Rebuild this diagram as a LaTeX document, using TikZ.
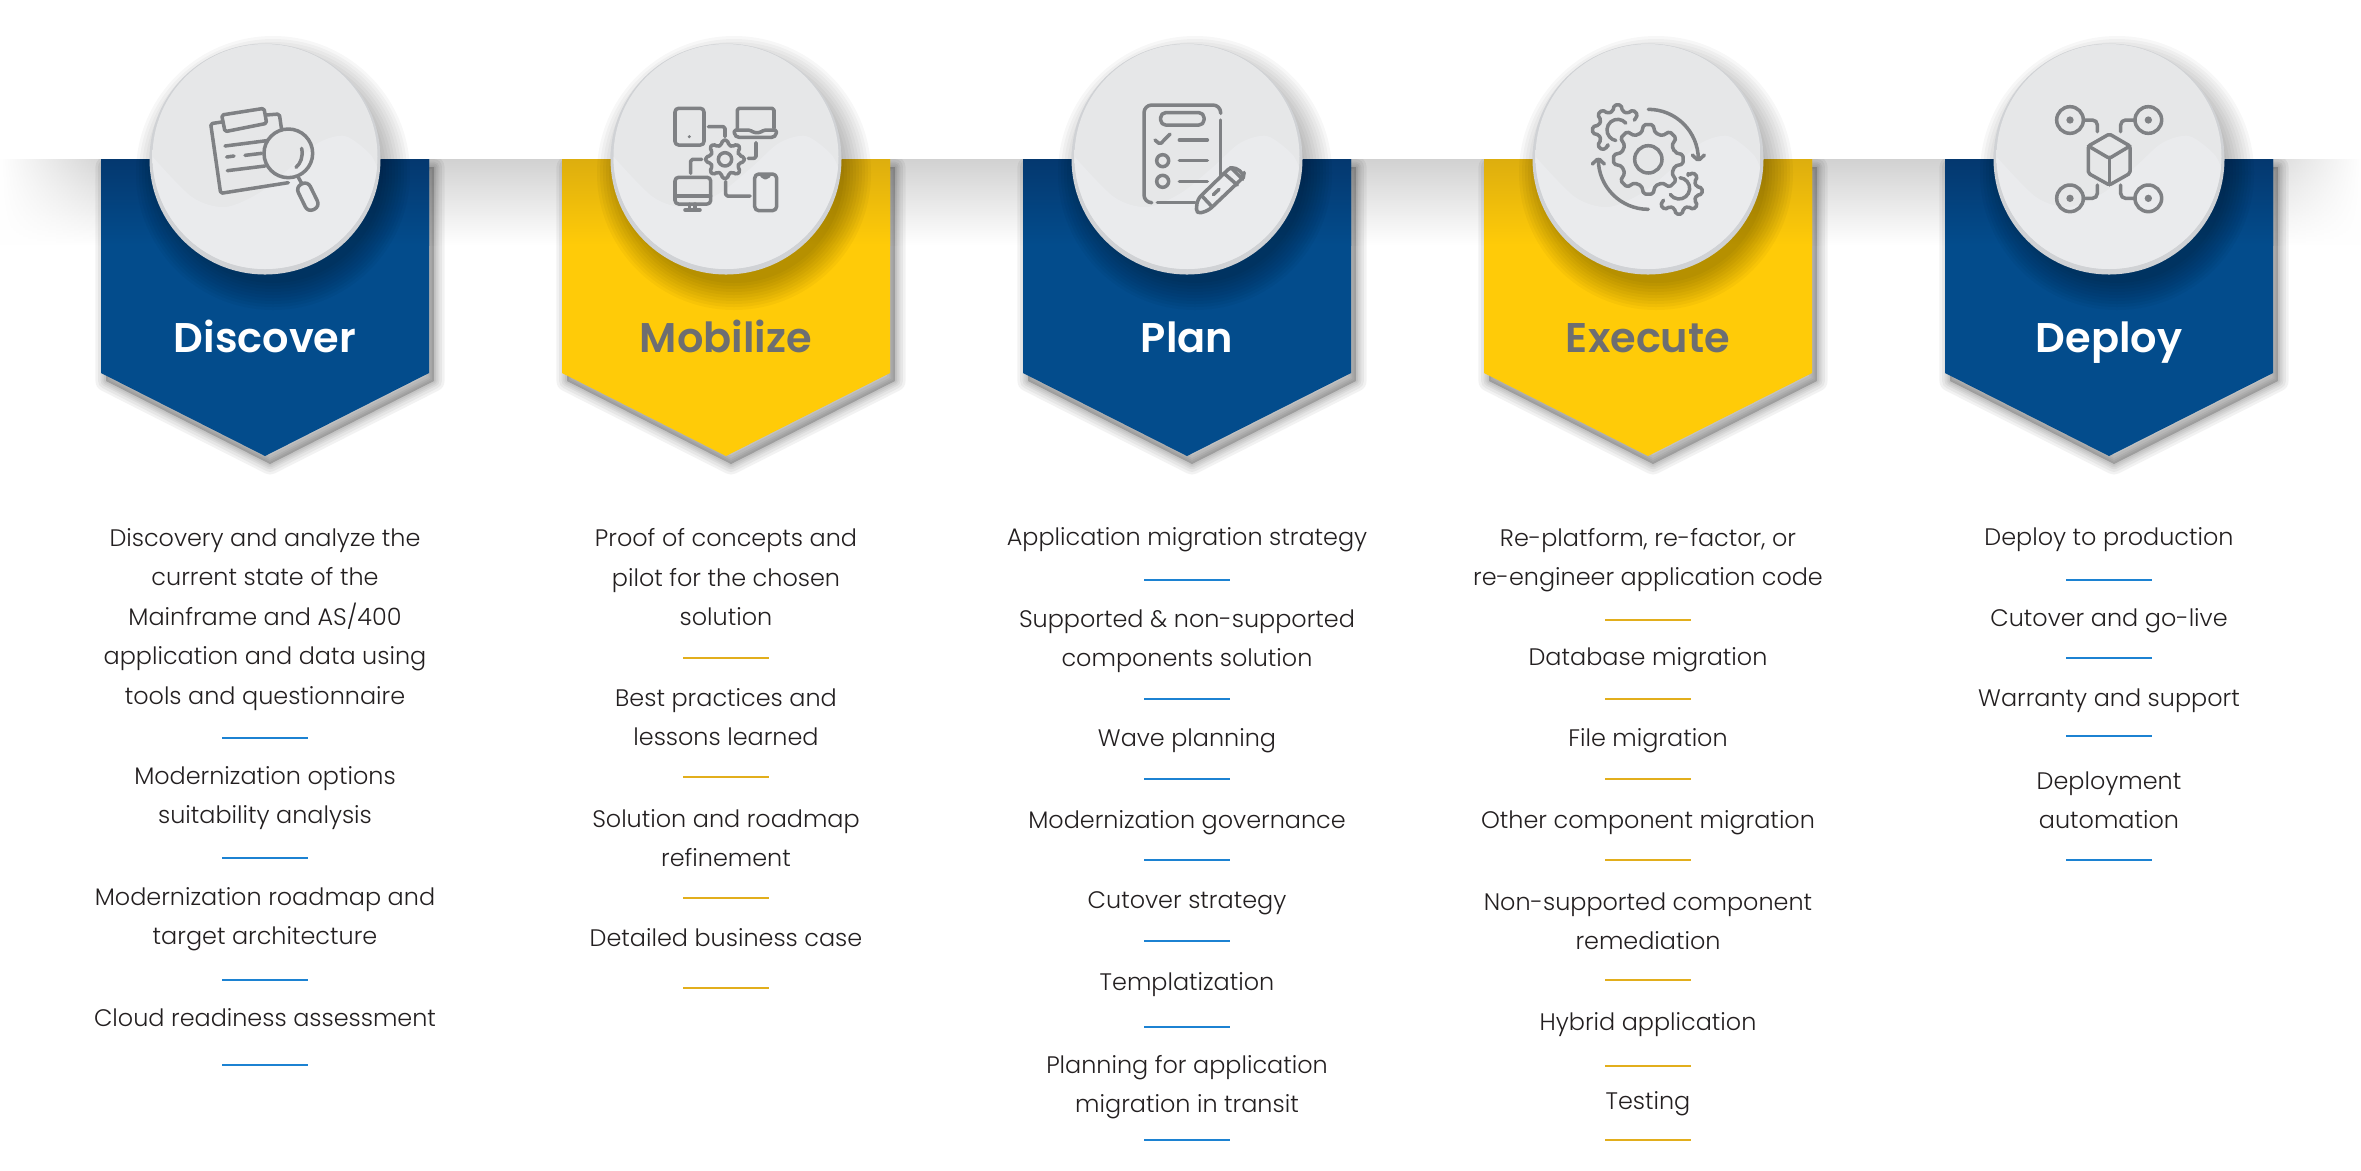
\documentclass[tikz,border=0pt]{standalone}
\usepackage{fontspec}
\usepackage{tikz}
\usetikzlibrary{calc, fadings}
\newfontfamily\itemfont{Poppins Light}
\newfontfamily\titlefont{Poppins SemiBold}
\definecolor{barblue}{HTML}{034C8C}
\definecolor{bartopblue}{HTML}{04386F}
\definecolor{baryellow}{HTML}{FFCB08}
\definecolor{bartopyellow}{HTML}{DDAE0E}
\definecolor{titlegray}{HTML}{6D6E71}
\definecolor{itemtext}{HTML}{231F20}
\definecolor{ruleblue}{HTML}{1C82D2}
\definecolor{rulegold}{HTML}{E2AE1C}
\definecolor{iconcol}{HTML}{7F8184}
\definecolor{bubblerim}{HTML}{D0D2D5}
\definecolor{bubbletop}{HTML}{D5D6D8}
\definecolor{bubblemid}{HTML}{E6E7E8}
\definecolor{bubblegloss}{HTML}{EAEBED}
\pgfdeclareverticalshading{bubbleshade}{100bp}{color(0bp)=(bubblemid); color(74bp)=(bubblemid); color(100bp)=(bubbletop)}
% tooth by tooth outline of a gear: centre, outer, inner, teeth, first, last, tail
\newcommand{\gearline}[7]{
    \draw[iconline] ($#1+({(#5-.32)*360/#4}:#3)$)
        \foreach \t in {#5,...,#6} {
            -- ($#1+({(\t-.32)*360/#4}:#3)$) -- ($#1+({(\t-.17)*360/#4}:#2)$)
            -- ($#1+({(\t+.17)*360/#4}:#2)$) -- ($#1+({(\t+.32)*360/#4}:#3)$)
        } #7;
}
\newcommand{\shieldpath}{(-164,159) -- (164,159) -- (164,373) -- (0,456) -- (-164,373) -- cycle}
\begin{document}
\begin{tikzpicture}[
                x=0.1mm, y=-0.1mm,
                item/.style={font=\itemfont\fontsize{6.8}{11.24}\selectfont, align=center, text=itemtext, inner sep=0pt,
                    execute at begin node=\strut, execute at end node=\strut},
                title/.style={font=\titlefont\fontsize{11.8}{15}\selectfont, anchor=base, inner sep=0pt},
                iconline/.style={draw=iconcol, line width=1pt, line join=round, line cap=round, rounded corners=0.5pt},
                rule/.style={line width=0.45pt}
            ]
                \useasboundingbox (0,0) rectangle (2361,1170);

                % band behind the shields
                \shade[top color=black!18, bottom color=white] (0,159) rectangle (2361,245);
                \fill[white, path fading=east] (0,159) rectangle (110,245);
                \fill[white, path fading=west] (2250,159) rectangle (2361,245);

                % shields and bubbles
                \foreach \cx/\barcol/\topcol/\txtcol/\name [count=\n] in {
                        265/barblue/bartopblue/white/Discover,
                        726/baryellow/bartopyellow/titlegray/Mobilize,
                        1187/barblue/bartopblue/white/Plan,
                        1648/baryellow/bartopyellow/titlegray/Execute,
                        2109/barblue/bartopblue/white/Deploy} {
                    \begin{scope}[shift={(\cx,0)}]
                        \begin{scope}
                            \clip (-190,159) rectangle (210,490);
                            \fill[black, opacity=0.2, shift={(5,8)}] \shieldpath;
                            \foreach \w in {1,2,3,4.5,6} {
                                \draw[black, opacity=0.05, line width=\w pt, line join=round, shift={(5,8)}] \shieldpath;
                            }
                        \end{scope}
                        \fill[\barcol] \shieldpath;
                        \shade[top color=\topcol, bottom color=\barcol] (-164,159) rectangle (164,245);
                        % shadow of the bubble
                        \foreach \r in {110,113,...,137} {
                            \fill[black, opacity=0.03] (8,173) circle[radius=\r];
                        }
                        % bubble with its rim and gloss
                        \fill[bubblerim] (0,159) circle[radius=115.5];
                        \shade[shading=bubbleshade] (0,156.5) circle[radius=112.5];
                        \begin{scope}
                            \clip (0,156.5) circle[radius=112.5];
                            \fill[bubblegloss] plot[smooth] coordinates {(-113,156) (-73,197) (-40,207) (-6,193) (26,167) (53,143) (80,136) (105,154) (113,170)}
                                -- (120,290) -- (-120,290) -- cycle;
                        \end{scope}
                        \node[title, text=\txtcol] (title\n) at (0,352) {\name};
                    \end{scope}
                }

                % icon discover
                \begin{scope}[shift={(190,90)}, scale=1/3]
                    \draw[iconline] (95,96) -- (62,101) -- (92,310) -- (295,278);
                    \draw[iconline] (228,75) -- (268,72) -- (275,120);
                    \draw[iconline] (95,75) -- (222,55) -- (230,100) -- (105,125) -- cycle;
                    \draw[iconline] (105,168) -- (230,152);
                    \draw[iconline] (110,201) -- (132,198);
                    \draw[iconline] (165,196) -- (215,190);
                    \draw[iconline] (112,242) -- (225,228);
                    \draw[iconline] (295,190) circle[radius=73];
                    \draw[iconline] (335,175) .. controls (340,200) and (332,220) .. (318,232);
                    \draw[iconline] (325,262) -- (335,280);
                    \draw[iconline, rounded corners=1.7pt] (317,291) -- (353,273) -- (390,349) -- (354,367) -- cycle;
                \end{scope}

                % icon mobilize
                \begin{scope}[shift={(650,90)}, scale=1/3]
                    \draw[iconline, rounded corners=1pt] (75,55) rectangle (162,165);
                    \fill[iconcol] (118,140) circle[radius=5];
                    \draw[iconline] (262,115) -- (262,55) -- (372,55) -- (372,115);
                    \draw[iconline] (252,120) -- (300,120) -- (312,128) -- (330,128) -- (342,120) -- (380,120) -- (378,135) -- (370,142) -- (262,142) -- (254,135) -- cycle;
                    \draw[iconline] (175,110) -- (225,110) -- (225,140);
                    \draw[iconline] (318,158) -- (318,205) -- (295,205);
                    \draw[iconline] (155,208) -- (122,208) -- (122,250);
                    \draw[iconline] (227,275) -- (227,318) -- (300,318);
                    \gearline{(225,208)}{58}{44}{8}{0}{7}{-- cycle}
                    \draw[iconline] (225,208) circle[radius=20];
                    \draw[iconline, rounded corners=1pt] (75,262) rectangle (182,342);
                    \draw[iconline] (75,318) -- (182,318);
                    \draw[iconline] (118,342) -- (118,358);
                    \draw[iconline] (135,342) -- (135,358);
                    \draw[iconline] (105,360) -- (150,360);
                    \draw[iconline, rounded corners=1.2pt] (314,252) rectangle (380,362);
                    \draw[iconline] (335,255) -- (340,263) -- (352,263) -- (358,255);
                \end{scope}

                % icon plan
                \begin{scope}[shift={(1120,90)}, scale=1/3]
                    \draw[iconline, rounded corners=2.2pt] (95,338) -- (72,338) -- (72,45) -- (302,45) -- (302,70);
                    \draw[iconline] (302,90) -- (302,262);
                    \draw[iconline] (112,338) -- (225,338);
                    \draw[iconline, rounded corners=1.4pt] (122,68) rectangle (252,105);
                    \draw[iconline] (105,150) -- (120,163) -- (150,132);
                    \foreach \y in {150,212,274} {
                        \draw[iconline] (178,\y) -- (262,\y);
                    }
                    \foreach \y in {212,274} {
                        \draw[iconline] (128,\y) circle[radius=18];
                    }
                    \draw[iconline, rounded corners=1.4pt] (232,328) -- (335,228) -- (372,250) -- (370,262) -- (265,362) -- (228,372) -- cycle;
                    \draw[iconline] (312,250) -- (352,285);
                    \draw[iconline] (332,232) -- (368,268);
                    \draw[iconline] (246,318) -- (276,350);
                    \draw[iconline] (280,314) -- (297,298);
                \end{scope}

                % icon execute
                \begin{scope}[shift={(1575,90)}, scale=1/3]
                    \gearline{(220,208)}{105}{82}{8}{0}{7}{-- cycle}
                    \draw[iconline] (220,208) circle[radius=41];
                    \gearline{(128,120)}{76}{58}{8}{3}{7}{}
                    \draw[iconline] (128,120) ++(-40:32) arc[start angle=-40, end angle=-260, radius=32];
                    \gearline{(312,303)}{70}{54}{8}{-1}{3}{}
                    \draw[iconline] (312,295) ++(-85:32) arc[start angle=-85, end angle=145, radius=32];
                    \draw[iconline] (220,58) arc[start angle=-90, end angle=0, radius=150];
                    \draw[iconline] (352,195) -- (370,212) -- (388,195);
                    \draw[iconline] (220,358) arc[start angle=90, end angle=180, radius=150];
                    \draw[iconline] (52,222) -- (70,205) -- (88,222);
                \end{scope}

                % icon deploy
                \begin{scope}[shift={(1900,20)}, scale=1/3]
                    \draw[iconline] (628,342) -- (690,378) -- (690,460) -- (628,495) -- (565,460) -- (565,378) -- cycle;
                    \draw[iconline] (565,378) -- (628,415) -- (690,378);
                    \draw[iconline] (628,415) -- (628,495);
                    \foreach \x in {510,745} {
                        \foreach \y in {300,535} {
                            \draw[iconline] (\x,\y) circle[radius=40];
                            \fill[iconcol] (\x,\y) circle[radius=11];
                        }
                    }
                    \draw[iconline, rounded corners=1.4pt] (550,300) -- (592,300) -- (592,335);
                    \draw[iconline, rounded corners=1.4pt] (705,300) -- (662,300) -- (662,335);
                    \draw[iconline, rounded corners=1.4pt] (550,535) -- (592,535) -- (592,495);
                    \draw[iconline, rounded corners=1.4pt] (705,535) -- (662,535) -- (662,495);
                \end{scope}

                % lists
                \foreach \y/\txt [count=\n] in {
                        622/{Discovery and analyze the\\current state of the\\Mainframe and AS/400\\application and data using\\tools and questionnaire},
                        801/{Modernization options\\suitability analysis},
                        922/{Modernization roadmap and\\target architecture},
                        1018.5/{Cloud readiness assessment}} {
                    \node[item] (dis\n) at (265,\y) {\txt};
                }
                \foreach \y/\txt [count=\n] in {
                        583/{Proof of concepts and\\pilot for the chosen\\solution},
                        723/{Best practices and\\lessons learned},
                        844/{Solution and roadmap\\refinement},
                        939/{Detailed business case}} {
                    \node[item] (mob\n) at (726,\y) {\txt};
                }
                \foreach \y/\txt [count=\n] in {
                        538/{Application migration strategy},
                        644/{Supported \& non-supported\\components solution},
                        739/{Wave planning},
                        821/{Modernization governance},
                        901/{Cutover strategy},
                        982.5/{Templatization},
                        1090/{Planning for application\\migration in transit}} {
                    \node[item] (pla\n) at (1187,\y) {\txt};
                }
                \foreach \y/\txt [count=\n] in {
                        563/{Re-platform, re-factor, or\\re-engineer application code},
                        658/{Database migration},
                        739/{File migration},
                        821/{Other component migration},
                        927/{Non-supported component\\remediation},
                        1022.5/{Hybrid application},
                        1102/{Testing}} {
                    \node[item] (exe\n) at (1648,\y) {\txt};
                }
                \foreach \y/\txt [count=\n] in {
                        538/{Deploy to production},
                        619/{Cutover and go-live},
                        699/{Warranty and support},
                        806/{Deployment\\automation}} {
                    \node[item] (dep\n) at (2109,\y) {\txt};
                }

                % short rules under the items
                \foreach \x/\col/\ys in {
                        265/ruleblue/{738,858,980,1065},
                        726/rulegold/{658,777,898,988},
                        1187/ruleblue/{580,699,779,860,941,1027,1140},
                        1648/rulegold/{620,699,779,860,980,1066,1140},
                        2109/ruleblue/{580,658,736,860}} {
                    \foreach \y in \ys {
                        \draw[rule, \col] (\x-43,\y) -- (\x+43,\y);
                    }
                }
            \end{tikzpicture}
\end{document}
